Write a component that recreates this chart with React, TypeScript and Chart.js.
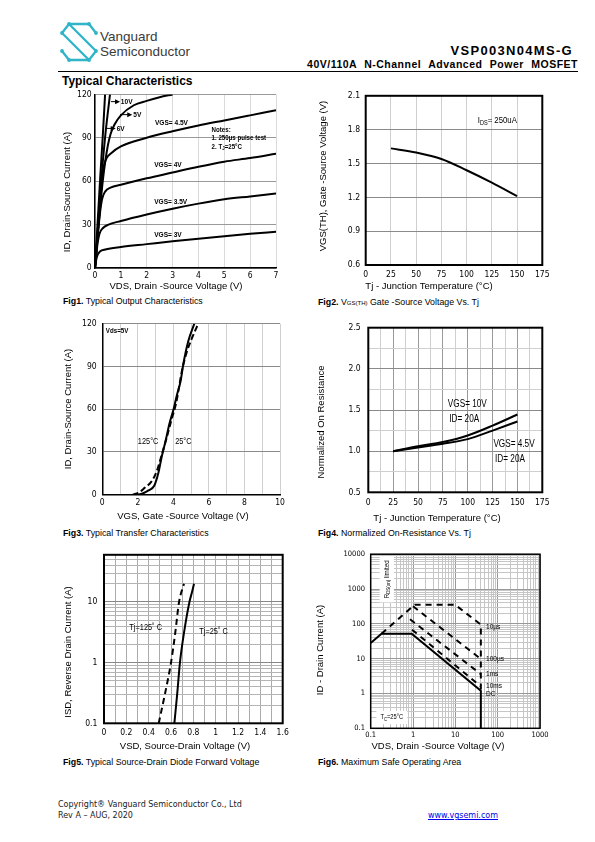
import React, { useEffect, useRef } from "react";
import { Chart, registerables } from "chart.js";

Chart.register(...registerables);

const NARROW = '"Liberation Sans Narrow", "Arial Narrow", "DejaVu Sans Condensed", "Liberation Sans", sans-serif';
const SANS = '"Liberation Sans", Arial, Helvetica, sans-serif';
const TITLE_SIZE = 9.5;
const SQUEEZE = 0.82;

// ---------------- Fig1: output characteristics ----------------
const F1_X_TICKS = [0, 1, 2, 3, 4, 5, 6, 7];
const F1_Y_TICKS = [0, 30, 60, 90, 120];
const F1_VDS_10V = [0, 0.1, 0.2, 0.3, 0.39];
const F1_ID_10V = [0, 31, 62, 91, 120];
const F1_VDS_6V = [0, 0.1, 0.2, 0.3, 0.4, 0.5, 0.58];
const F1_ID_6V = [0, 25, 50, 73, 92, 108, 120];
const F1_VDS_5V = [0, 0.1, 0.2, 0.3, 0.4, 0.5, 0.6, 0.75, 1, 1.5, 2, 2.5, 3];
const F1_ID_5V = [0, 22, 42, 60, 74, 85, 92.5, 99, 105.5, 112.5, 115.5, 118, 120];
const F1_VDS_45V = [0, 0.1, 0.2, 0.28, 0.35, 0.45, 0.6, 1, 2, 3, 4, 5, 6, 7];
const F1_ID_45V = [0, 23, 45, 62, 71, 76, 79, 84, 90, 94.5, 98.5, 102, 105.5, 109];
const F1_VDS_4V = [0, 0.1, 0.2, 0.28, 0.4, 0.6, 1, 2, 3, 4, 5, 6, 7];
const F1_ID_4V = [0, 21, 39, 48, 53, 55.5, 57.5, 62, 66, 70, 73.5, 76, 79];
const F1_VDS_35V = [0, 0.05, 0.1, 0.18, 0.3, 0.5, 1, 2, 3, 4, 5, 6, 7];
const F1_ID_35V = [0, 9, 17, 24, 27.5, 29.8, 32.5, 37, 41, 44.5, 47.5, 49.5, 51.5];
const F1_VDS_3V = [0, 0.04, 0.1, 0.2, 0.4, 1, 2, 3, 4, 5, 6, 7];
const F1_ID_3V = [0, 5, 9, 11.5, 12.8, 14.5, 16.5, 18.5, 20.3, 22, 23.6, 25];

// ---------------- Fig2: threshold voltage vs Tj ----------------
const F2_X_TICKS = [0, 25, 50, 75, 100, 125, 150, 175];
const F2_Y_TICKS = [0.6, 0.9, 1.2, 1.5, 1.8, 2.1];
const F2_TJ = [25, 50, 75, 100, 125, 150];
const F2_VTH = [1.634, 1.597, 1.54, 1.44, 1.33, 1.21];

// ---------------- Fig3: transfer characteristics ----------------
const F3_X_LABELS = [0, 2, 4, 6, 8, 10];
const F3_Y_TICKS = [0, 30, 60, 90, 120];
const F3_VGS_25C = [2.03, 2.3, 2.6, 2.93, 3.15, 3.35, 3.58, 3.78, 4.0, 4.2, 4.41, 4.56, 4.84, 5.18];
const F3_ID_25C = [0, 1, 3, 6.5, 15, 27, 38.7, 50, 59.4, 70, 80, 91.7, 107.8, 120];
const F3_VGS_125C = [1.71, 2.1, 2.4, 2.75, 3.05, 3.32, 3.6, 3.88, 4.15, 4.5, 4.75, 5.05, 5.4];
const F3_ID_125C = [0, 1.8, 5, 9, 16, 27, 39, 52, 64, 88, 100, 110, 120];

// ---------------- Fig4: normalized on-resistance ----------------
const F4_X_LABELS = [0, 25, 50, 75, 100, 125, 150, 175];
const F4_Y_LABELS = [0.5, 1.0, 1.5, 2.0, 2.5];
const F4_TJ = [25, 50, 75, 100, 125, 150];
const F4_R_10V = [1.0, 1.06, 1.11, 1.19, 1.31, 1.445];
const F4_R_45V = [1.0, 1.045, 1.09, 1.146, 1.25, 1.36];

// ---------------- Fig5: body diode forward voltage ----------------
const F5_X_LABELS = [0, 0.2, 0.4, 0.6, 0.8, 1, 1.2, 1.4, 1.6];
const F5_Y_LABELS = [0.1, 1, 10];
const F5_VSD_125C = [0.49, 0.545, 0.6, 0.637, 0.672, 0.716];
const F5_IS_125C = [0.1, 0.3, 1, 3, 10, 20];
const F5_VSD_25C = [0.63, 0.655, 0.68, 0.715, 0.765, 0.79, 0.806];
const F5_IS_25C = [0.1, 0.3, 1, 3, 10, 15, 20];

// ---------------- Fig6: safe operating area ----------------
const F6_X_LABELS = [0.1, 1, 10, 100, 1000];
const F6_Y_LABELS = [0.1, 1, 10, 100, 1000, 10000];
const F6_VDS_DC = [0.1, 0.18, 0.93, 40, 40];
const F6_ID_DC = [28, 52, 52, 1.2, 0.1];
const F6_VDS_10US = [0.18, 1.1, 9.8, 40, 40];
const F6_ID_10US = [52, 355, 355, 95, 1.2];
const F6_VDS_100US = [1.0, 40];
const F6_ID_100US = [320, 9.8];
const F6_VDS_1MS = [0.85, 40];
const F6_ID_1MS = [135, 3.6];
const F6_VDS_10MS = [0.95, 40];
const F6_ID_10MS = [68, 1.6];

// ---------------- helpers ----------------
const same = (a: number, b: number) => Math.abs(a - b) <= 1e-9 * Math.max(1, Math.abs(a), Math.abs(b));
const steps = (min: number, max: number, step: number) => {
  const out: number[] = [];
  const n = Math.round((max - min) / step);
  for (let i = 0; i <= n; i++) out.push(+(min + i * step).toFixed(6));
  return out;
};
const logGrid = (decades: number[], max: number) => {
  const out: number[] = [];
  for (const d of decades)
    for (let m = 1; m <= 9; m++) {
      const v = +(d * m).toPrecision(6);
      if (v <= max * 1.000001 && !out.some((o) => same(o, v))) out.push(v);
    }
  return out;
};
const fmtPlain = (v: number) => String(+v.toFixed(4));
const fmt1 = (v: number) => v.toFixed(1);

type AxisDef = {
  type: "linear" | "logarithmic";
  min: number;
  max: number;
  grid: number[];
  labels: number[];
  major: number[];
  fmt: (v: number) => string;
  majorColor: string;
  minorColor: string;
  title: string;
  titleX: number;
  titleY: number;
};
type Series = { x: number[]; y: number[]; dash?: number[]; width?: number; smooth?: boolean };
type Note = { text: string; x: number; y: number; size: number; bold?: boolean; align?: CanvasTextAlign; rot?: number; bg?: boolean };
type Arrow = { x1: number; y1: number; x2: number; y2: number };
type FigSpec = {
  L: number; T: number; R: number; B: number;
  yTickRight: number; xTickY: number; tickSize: number;
  box: number; edge: boolean;
  x: AxisDef; y: AxisDef;
  series: Series[]; notes: Note[]; arrows?: Arrow[];
};

function parseRich(text: string) {
  const parts = text.split(/_\{([^}]*)\}/);
  return parts.map((t, i) => ({ t, sub: i % 2 === 1 })).filter((p) => p.t.length > 0);
}

function drawRich(ctx: CanvasRenderingContext2D, text: string, x: number, y: number, size: number, bold: boolean, family: string, align: CanvasTextAlign, rot: number, bg: boolean, hs: number) {
  const parts = parseRich(text);
  const fontFor = (sub: boolean) => `${bold ? "bold " : ""}${sub ? size * 0.72 : size}px ${family}`;
  let total = 0;
  const widths = parts.map((p) => {
    ctx.font = fontFor(p.sub);
    const w = ctx.measureText(p.t).width;
    total += w;
    return w;
  });
  ctx.save();
  ctx.translate(x, y);
  if (rot) ctx.rotate(rot);
  ctx.scale(hs, 1);
  let start = align === "center" ? -total / 2 : align === "right" ? -total : 0;
  if (bg) {
    ctx.fillStyle = "#fff";
    ctx.fillRect(start - 5, -size * 0.95, total + 10, size * 1.9);
  }
  ctx.textBaseline = "middle";
  ctx.textAlign = "left";
  ctx.fillStyle = "#000";
  parts.forEach((p, i) => {
    ctx.font = fontFor(p.sub);
    ctx.fillText(p.t, start, p.sub ? size * 0.28 : 0);
    start += widths[i];
  });
  ctx.restore();
}

function geometry(s: FigSpec) {
  const left = Math.floor(s.y.titleX - 8);
  const top = Math.floor(s.T - 8);
  const right = Math.ceil(s.R + 14);
  const bottom = Math.ceil(s.x.titleY + 8);
  return {
    left, top, w: right - left, h: bottom - top,
    padTop: s.T - top, padRight: right - s.R, yW: s.L - left, xH: bottom - s.B,
  };
}

function axisOptions(a: AxisDef, horizontal: boolean, fitSize: number, pad: number, edge: boolean, tickSize: number) {
  return {
    type: a.type,
    min: a.min,
    max: a.max,
    position: horizontal ? "bottom" : "left",
    afterBuildTicks: (sc: any) => {
      sc.ticks = a.grid.map((v) => ({ value: v }));
    },
    afterFit: (sc: any) => {
      if (horizontal) sc.height = fitSize;
      else sc.width = fitSize;
    },
    ticks: {
      autoSkip: false,
      maxRotation: 0,
      minRotation: 0,
      padding: pad,
      color: "#000",
      font: { family: NARROW, size: tickSize },
      callback: (v: any) => {
        const n = Number(v);
        return a.labels.some((l) => same(l, n)) ? a.fmt(n) : "";
      },
    },
    grid: {
      drawTicks: false,
      tickLength: 0,
      lineWidth: 1,
      color: (ctx: any) => {
        const v = ctx.tick ? ctx.tick.value : NaN;
        return a.major.some((m) => same(m, v)) ? a.majorColor : a.minorColor;
      },
    },
    border: { display: edge, color: "#000", width: 1.5 },
    title: { display: false },
  };
}

function makeOverlay(spec: FigSpec, g: ReturnType<typeof geometry>) {
  return {
    id: "overlay",
    afterDraw(chart: any) {
      const ctx: CanvasRenderingContext2D = chart.ctx;
      const xs = chart.scales.x;
      const ys = chart.scales.y;
      const ca = chart.chartArea;
      ctx.save();
      if (spec.box > 0) {
        ctx.strokeStyle = "#000";
        ctx.lineWidth = spec.box;
        ctx.strokeRect(ca.left, ca.top, ca.right - ca.left, ca.bottom - ca.top);
      }
      for (const ar of spec.arrows || []) {
        const x1 = xs.getPixelForValue(ar.x1), y1 = ys.getPixelForValue(ar.y1);
        const x2 = xs.getPixelForValue(ar.x2), y2 = ys.getPixelForValue(ar.y2);
        const ang = Math.atan2(y2 - y1, x2 - x1);
        ctx.strokeStyle = "#000";
        ctx.lineWidth = 1;
        ctx.beginPath();
        ctx.moveTo(x1, y1);
        ctx.lineTo(x2 - 3 * Math.cos(ang), y2 - 3 * Math.sin(ang));
        ctx.stroke();
        ctx.fillStyle = "#000";
        ctx.beginPath();
        ctx.moveTo(x2, y2);
        ctx.lineTo(x2 - 5 * Math.cos(ang) + 2.5 * Math.sin(ang), y2 - 5 * Math.sin(ang) - 2.5 * Math.cos(ang));
        ctx.lineTo(x2 - 5 * Math.cos(ang) - 2.5 * Math.sin(ang), y2 - 5 * Math.sin(ang) + 2.5 * Math.cos(ang));
        ctx.closePath();
        ctx.fill();
      }
      for (const lb of spec.notes) {
        drawRich(ctx, lb.text, xs.getPixelForValue(lb.x), ys.getPixelForValue(lb.y), lb.size, !!lb.bold, SANS, lb.align || "left", lb.rot || 0, !!lb.bg, SQUEEZE);
      }
      drawRich(ctx, spec.x.title, spec.x.titleX - g.left, spec.x.titleY - g.top, TITLE_SIZE, false, SANS, "center", 0, false, 1);
      drawRich(ctx, spec.y.title, spec.y.titleX - g.left, spec.y.titleY - g.top, TITLE_SIZE, false, SANS, "center", -Math.PI / 2, false, 1);
      ctx.restore();
    },
  };
}

function ChartFig({ spec }: { spec: FigSpec }) {
  const ref = useRef<HTMLCanvasElement | null>(null);
  const g = geometry(spec);
  useEffect(() => {
    const canvas = ref.current;
    if (!canvas) return;
    const tickLH = spec.tickSize * 1.2;
    const config: any = {
      type: "scatter",
      data: {
        datasets: spec.series.map((s) => ({
          data: s.x.map((x, i) => ({ x, y: s.y[i] })),
          showLine: true,
          borderColor: "#000",
          backgroundColor: "#000",
          borderWidth: s.width || 2,
          borderDash: s.dash || [],
          pointRadius: 0,
          pointHoverRadius: 0,
          cubicInterpolationMode: s.smooth ? "monotone" : "default",
          tension: 0,
          fill: false,
        })),
      },
      options: {
        responsive: false,
        animation: false,
        events: [],
        layout: { padding: { top: g.padTop, right: g.padRight, left: 0, bottom: 0 } },
        plugins: { legend: { display: false }, tooltip: { enabled: false }, title: { display: false } },
        scales: {
          x: axisOptions(spec.x, true, g.xH, spec.xTickY - spec.B - tickLH / 2, spec.edge, spec.tickSize),
          y: axisOptions(spec.y, false, g.yW, spec.L - spec.yTickRight, spec.edge, spec.tickSize),
        },
      },
      plugins: [makeOverlay(spec, g)],
    };
    const chart = new Chart(canvas, config);
    return () => chart.destroy();
  }, [spec]);
  return (
    <canvas
      ref={ref}
      width={g.w}
      height={g.h}
      style={{ position: "absolute", left: g.left, top: g.top, width: g.w, height: g.h }}
    />
  );
}

// ---------------- figure specifications ----------------
const FIG1: FigSpec = {
  L: 95, T: 94, R: 276, B: 268, yTickRight: 91.7, xTickY: 275.7, tickSize: 8.5, box: 0, edge: true,
  x: { type: "linear", min: 0, max: 7, grid: F1_X_TICKS, labels: F1_X_TICKS, major: [], fmt: fmtPlain, majorColor: "#999", minorColor: "#dadada", title: "VDS, Drain -Source Voltage (V)", titleX: 176, titleY: 286 },
  y: { type: "linear", min: 0, max: 120, grid: F1_Y_TICKS, labels: F1_Y_TICKS, major: F1_Y_TICKS, fmt: fmtPlain, majorColor: "#999", minorColor: "#999", title: "ID, Drain-Source Current (A)", titleX: 67.3, titleY: 192 },
  series: [
    { x: F1_VDS_10V, y: F1_ID_10V, smooth: true },
    { x: F1_VDS_6V, y: F1_ID_6V, smooth: true },
    { x: F1_VDS_5V, y: F1_ID_5V, smooth: true },
    { x: F1_VDS_45V, y: F1_ID_45V, smooth: true },
    { x: F1_VDS_4V, y: F1_ID_4V, smooth: true },
    { x: F1_VDS_35V, y: F1_ID_35V, smooth: true },
    { x: F1_VDS_3V, y: F1_ID_3V, smooth: true },
  ],
  notes: [
    { text: "10V", x: 1.0, y: 115, size: 8, bold: true },
    { text: "5V", x: 1.48, y: 106, size: 8, bold: true },
    { text: "6V", x: 0.84, y: 96.5, size: 8, bold: true },
    { text: "VGS= 4.5V", x: 2.32, y: 100.5, size: 8, bold: true },
    { text: "VGS= 4V", x: 2.29, y: 71, size: 8, bold: true },
    { text: "VGS= 3.5V", x: 2.29, y: 45.7, size: 8, bold: true },
    { text: "VGS= 3V", x: 2.29, y: 22.8, size: 8, bold: true },
    { text: "Notes:", x: 4.51, y: 95.6, size: 7.5, bold: true },
    { text: "1. 250\u00b5s pulse test", x: 4.51, y: 89.6, size: 7.5, bold: true },
    { text: "2. T_{J}=25\u00b0C", x: 4.51, y: 84, size: 7.5, bold: true },
  ],
  arrows: [
    { x1: 0.62, y1: 115, x2: 0.97, y2: 115 },
    { x1: 0.97, y1: 106, x2: 1.44, y2: 106 },
    { x1: 0.39, y1: 96.5, x2: 0.8, y2: 96.5 },
  ],
};

const FIG2: FigSpec = {
  L: 365.7, T: 93.3, R: 542.3, B: 265, yTickRight: 360, xTickY: 274.3, tickSize: 8.5, box: 2, edge: false,
  x: { type: "linear", min: 0, max: 175, grid: F2_X_TICKS, labels: F2_X_TICKS, major: [], fmt: fmtPlain, majorColor: "#d0d0d0", minorColor: "#d0d0d0", title: "Tj - Junction Temperature (\u00b0C)", titleX: 429, titleY: 286.7 },
  y: { type: "linear", min: 0.6, max: 2.1, grid: F2_Y_TICKS, labels: F2_Y_TICKS, major: F2_Y_TICKS, fmt: fmt1, majorColor: "#8a8a8a", minorColor: "#8a8a8a", title: "VGS(TH), Gate -Source Voltage (V)", titleX: 323.3, titleY: 176 },
  series: [{ x: F2_TJ, y: F2_VTH, smooth: true }],
  notes: [{ text: "I_{DS}= 250uA", x: 111, y: 1.885, size: 9.5 }],
};

const FIG3: FigSpec = {
  L: 102.3, T: 321, R: 280, B: 494.7, yTickRight: 96.7, xTickY: 503, tickSize: 8.5, box: 0, edge: true,
  x: { type: "linear", min: 0, max: 10, grid: steps(0, 10, 1), labels: F3_X_LABELS, major: [], fmt: fmtPlain, majorColor: "#d0d0d0", minorColor: "#d0d0d0", title: "VGS, Gate -Source Voltage (V)", titleX: 183, titleY: 516 },
  y: { type: "linear", min: 0, max: 120, grid: F3_Y_TICKS, labels: F3_Y_TICKS, major: F3_Y_TICKS, fmt: fmtPlain, majorColor: "#8a8a8a", minorColor: "#8a8a8a", title: "ID, Drain-Source Current (A)", titleX: 68.3, titleY: 409 },
  series: [
    { x: F3_VGS_25C, y: F3_ID_25C, smooth: true },
    { x: F3_VGS_125C, y: F3_ID_125C, smooth: true, dash: [6, 3] },
  ],
  notes: [
    { text: "Vds=5V", x: 0.2, y: 115, size: 7.5, bold: true },
    { text: "125\u00b0C", x: 2.0, y: 37, size: 9 },
    { text: "25\u00b0C", x: 4.1, y: 37, size: 9 },
  ],
};

const FIG4: FigSpec = {
  L: 368.3, T: 323, R: 542.3, B: 492.3, yTickRight: 360.7, xTickY: 503, tickSize: 8.5, box: 2, edge: false,
  x: { type: "linear", min: 0, max: 175, grid: steps(0, 175, 12.5), labels: F4_X_LABELS, major: F4_X_LABELS, fmt: fmtPlain, majorColor: "#9a9a9a", minorColor: "#cfcfcf", title: "Tj - Junction Temperature (\u00b0C)", titleX: 437, titleY: 518.7 },
  y: { type: "linear", min: 0.5, max: 2.5, grid: steps(0.5, 2.5, 0.25), labels: F4_Y_LABELS, major: F4_Y_LABELS, fmt: fmt1, majorColor: "#8a8a8a", minorColor: "#cfcfcf", title: "Normalized On Resistance", titleX: 321.7, titleY: 422 },
  series: [
    { x: F4_TJ, y: F4_R_10V, smooth: true },
    { x: F4_TJ, y: F4_R_45V, smooth: true },
  ],
  notes: [
    { text: "VGS= 10V", x: 80, y: 1.575, size: 10 },
    { text: "ID= 20A", x: 81.5, y: 1.39, size: 10 },
    { text: "VGS= 4.5V", x: 125.8, y: 1.08, size: 10 },
    { text: "ID= 20A", x: 127.5, y: 0.897, size: 10 },
  ],
};

const FIG5: FigSpec = {
  L: 104, T: 551.7, R: 282.7, B: 723.3, yTickRight: 97.3, xTickY: 732.7, tickSize: 8.5, box: 2, edge: false,
  x: { type: "linear", min: 0, max: 1.6, grid: steps(0, 1.6, 0.1), labels: F5_X_LABELS, major: [], fmt: fmtPlain, majorColor: "#aaaaaa", minorColor: "#aaaaaa", title: "VSD, Source-Drain Voltage (V)", titleX: 185, titleY: 746.7 },
  y: { type: "logarithmic", min: 0.1, max: 60, grid: logGrid(F5_Y_LABELS, 60), labels: F5_Y_LABELS, major: F5_Y_LABELS, fmt: fmtPlain, majorColor: "#888888", minorColor: "#b4b4b4", title: "ISD, Reverse Drain Current (A)", titleX: 68.3, titleY: 652 },
  series: [
    { x: F5_VSD_125C, y: F5_IS_125C, smooth: true, dash: [6, 4] },
    { x: F5_VSD_25C, y: F5_IS_25C, smooth: true },
  ],
  notes: [
    { text: "Tj=125\u02da C", x: 0.227, y: 3.85, size: 9 },
    { text: "Tj=25\u02da C", x: 0.853, y: 3.28, size: 9 },
  ],
};

const FIG6: FigSpec = {
  L: 370.7, T: 552.3, R: 540, B: 728.3, yTickRight: 365, xTickY: 735, tickSize: 7.5, box: 1.5, edge: false,
  x: { type: "logarithmic", min: 0.1, max: 1000, grid: logGrid(F6_X_LABELS, 1000), labels: F6_X_LABELS, major: F6_X_LABELS, fmt: fmtPlain, majorColor: "#999999", minorColor: "#c6c6c6", title: "VDS, Drain -Source Voltage (V)", titleX: 438, titleY: 746.7 },
  y: { type: "logarithmic", min: 0.1, max: 10000, grid: logGrid(F6_Y_LABELS, 10000), labels: F6_Y_LABELS, major: F6_Y_LABELS, fmt: fmtPlain, majorColor: "#999999", minorColor: "#c6c6c6", title: "ID - Drain Current (A)", titleX: 320, titleY: 650 },
  series: [
    { x: F6_VDS_DC, y: F6_ID_DC, width: 2 },
    { x: F6_VDS_10US, y: F6_ID_10US, width: 2, dash: [6, 5] },
    { x: F6_VDS_100US, y: F6_ID_100US, width: 2, dash: [6, 5] },
    { x: F6_VDS_1MS, y: F6_ID_1MS, width: 2, dash: [6, 5] },
    { x: F6_VDS_10MS, y: F6_ID_10MS, width: 2, dash: [6, 5] },
  ],
  notes: [
    { text: "R_{DS(on)} limited", x: 0.24, y: 1900, size: 7.5, rot: -Math.PI / 2, align: "center", bg: true },
    { text: "T_{C}=25\u00b0C", x: 0.17, y: 0.205, size: 7, bg: true },
    { text: "10\u00b5s", x: 53, y: 80, size: 8 },
    { text: "100\u00b5s", x: 53, y: 9.8, size: 8 },
    { text: "1ms", x: 53, y: 3.65, size: 8 },
    { text: "10ms", x: 53, y: 1.62, size: 8 },
    { text: "DC", x: 53, y: 0.99, size: 8 },
  ],
};

// ---------------- page furniture ----------------
function Logo() {
  const c = "#2fb4c8";
  const nodes = [[10, 3], [30, 3], [3, 12], [37, 12], [3, 30], [37, 30], [10, 39], [30, 39]];
  return (
    <svg width={40} height={42} viewBox="0 0 40 42" style={{ position: "absolute", left: 59, top: 21 }}>
      <g fill="none" stroke={c} strokeWidth={2.3} strokeLinejoin="round" strokeLinecap="round">
        <polyline points="37,12 30,3 10,3 3,12" />
        <line x1="3" y1="12" x2="30" y2="39" />
        <line x1="10" y1="3" x2="37" y2="30" />
        <polyline points="3,30 10,39 30,39 37,30" />
      </g>
      {nodes.map(([x, y], i) => (
        <circle key={i} cx={x} cy={y} r={1.9} fill={c} />
      ))}
    </svg>
  );
}

function Txt(props: { left?: number; right?: number; cy: number; size: number; bold?: boolean; family?: string; color?: string; children: any; style?: any }) {
  const { left, right, cy, size, bold, family, color, children, style } = props;
  return (
    <div
      style={{
        position: "absolute",
        left,
        right,
        top: cy - size * 0.5,
        fontSize: size,
        lineHeight: 1,
        fontWeight: bold ? "bold" : "normal",
        fontFamily: family || SANS,
        color: color || "#000",
        whiteSpace: "nowrap",
        ...(style || {}),
      }}
    >
      {children}
    </div>
  );
}

function Caption({ left, cy, num, children }: { left: number; cy: number; num: string; children: any }) {
  return (
    <Txt left={left} cy={cy} size={8.8}>
      <b>{num}</b> {children}
    </Txt>
  );
}

export default function App() {
  return (
    <div style={{ position: "absolute", left: 0, top: 0, width: 595, height: 842, background: "#fff", overflow: "hidden", fontFamily: SANS }}>
      <Logo />
      <Txt left={100} cy={37} size={13.5} color="#3a3a3a">Vanguard</Txt>
      <Txt left={100} cy={51.5} size={13.5} color="#3a3a3a">Semiconductor</Txt>
      <Txt right={22} cy={50.5} size={13} bold style={{ letterSpacing: 1.3 }}>VSP003N04MS-G</Txt>
      <Txt right={17} cy={64.5} size={10.5} bold style={{ wordSpacing: 4, letterSpacing: 0.5 }}>40V/110A N-Channel Advanced Power MOSFET</Txt>
      <div style={{ position: "absolute", left: 58, top: 70.5, width: 520, height: 1.3, background: "#000" }} />
      <Txt left={62} cy={81} size={12} bold>Typical Characteristics</Txt>

      <ChartFig spec={FIG1} />
      <ChartFig spec={FIG2} />
      <ChartFig spec={FIG3} />
      <ChartFig spec={FIG4} />
      <ChartFig spec={FIG5} />
      <ChartFig spec={FIG6} />

      <Caption left={63} cy={301} num="Fig1.">Typical Output Characteristics</Caption>
      <Caption left={318} cy={302} num="Fig2.">
        V<span style={{ fontSize: 6 }}>GS(TH)</span> Gate -Source Voltage Vs. Tj
      </Caption>
      <Caption left={63} cy={533} num="Fig3.">Typical Transfer Characteristics</Caption>
      <Caption left={318} cy={533} num="Fig4.">Normalized On-Resistance Vs. Tj</Caption>
      <Caption left={63} cy={762} num="Fig5.">Typical Source-Drain Diode Forward Voltage</Caption>
      <Caption left={318} cy={762} num="Fig6.">Maximum Safe Operating Area</Caption>

      <Txt left={58} cy={805} size={8} family='"DejaVu Sans", Verdana, sans-serif' color="#222">Copyright® Vanguard Semiconductor Co., Ltd</Txt>
      <Txt left={58} cy={816} size={8} family='"DejaVu Sans", Verdana, sans-serif' color="#222">Rev A – AUG, 2020</Txt>
      <Txt left={428} cy={816} size={8} family='"DejaVu Sans", Verdana, sans-serif' color="#0000ee" style={{ textDecoration: "underline" }}>www.vgsemi.com</Txt>
    </div>
  );
}
